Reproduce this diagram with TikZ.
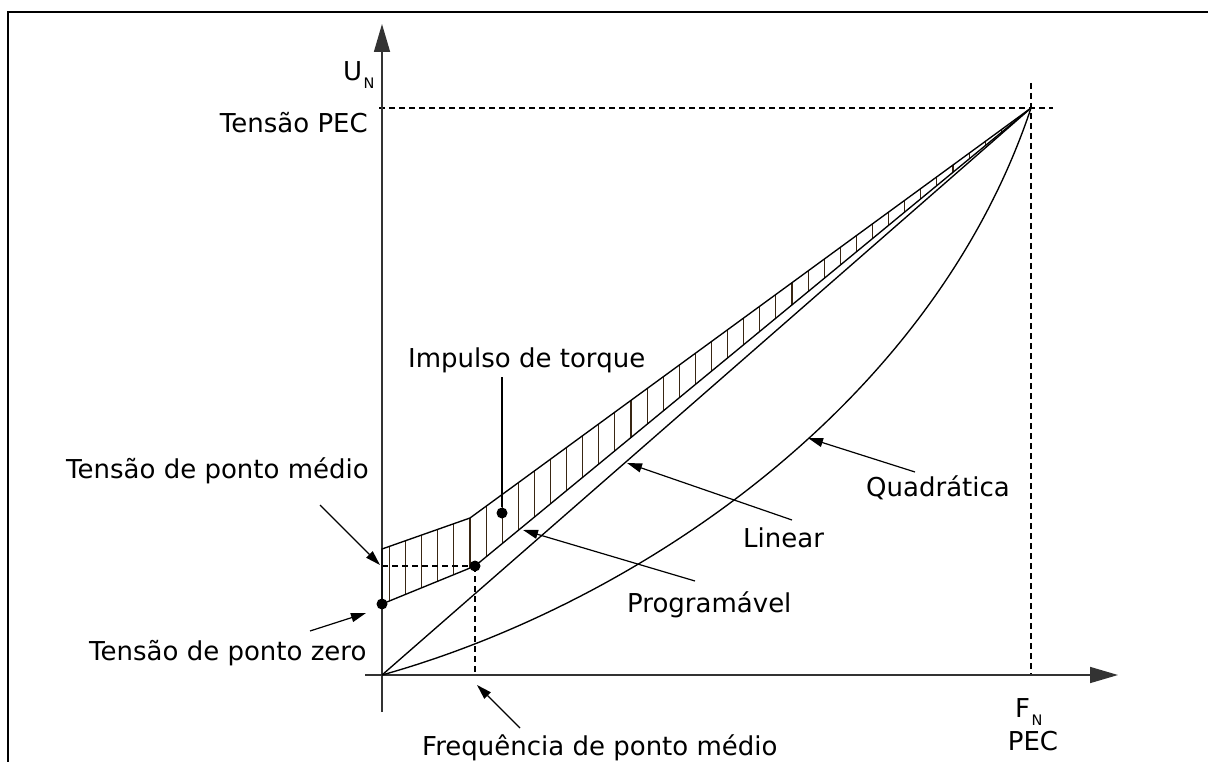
\documentclass[tikz,border=0pt]{standalone}
\usepackage{fontspec}
\setmainfont{DejaVu Sans}
\usetikzlibrary{arrows.meta}
\begin{document}
\begin{tikzpicture}[x=1pt,y=-1pt,
  lbl/.style={font=\fontsize{26}{31}\selectfont, inner sep=0pt},
  sub/.style={font=\fontsize{14.5}{16}\selectfont, inner sep=0pt},
  curve/.style={line width=1.35pt},
  axis/.style={line width=1.6pt, draw=black!80, -{Triangle[length=28pt,width=16pt]}},
  guide/.style={dash pattern=on 6pt off 4pt, line width=1.2pt},
  pointer/.style={line width=1.2pt, -{Triangle[length=15pt,width=9pt]}},
  dot/.style={circle, fill=black, inner sep=0pt, minimum size=11pt},
  hatch/.style={line width=1.1pt, draw=brown!30!black}]

\useasboundingbox (0,0) rectangle (1208,762);
\draw[line width=2pt] (8,762) -- (8,12) -- (1208,12);

% key points
\coordinate (O) at (382,675);
\coordinate (P) at (1031,108);
\coordinate (Z) at (382,604);
\coordinate (M) at (475,566);
\coordinate (TL) at (382,549);
\coordinate (K) at (470,518);
\coordinate (MY) at (382,566);
\coordinate (MX) at (475,675);

% hatching
\begin{scope}
\clip (TL) -- (K) -- (P) -- (M) -- (Z) -- cycle;
\foreach \i in {0,...,41} \draw[hatch] ({389.5+16.1*\i},100) -- ({389.5+16.1*\i},620);
\end{scope}

% guides
\coordinate (GL) at (379,108);
\coordinate (GR) at (1053,108);
\coordinate (GT) at (1031,83);
\coordinate (GB) at (1031,675);
\draw[guide] (GL) -- (GR);
\draw[guide] (GT) -- (GB);
\draw[guide] (MY) -- (M);
\draw[guide] (M) -- (MX);

% axes
\coordinate (YB) at (382,712);
\coordinate (YT) at (382,24);
\coordinate (XL) at (365,675);
\coordinate (XR) at (1118,675);
\draw[axis] (YB) -- (YT);
\draw[axis] (XL) -- (XR);

% curves
\draw[curve] (Z) -- (TL) -- (K) -- (P);
\draw[curve] (Z) -- (M) -- (P);
\draw[curve] (O) -- (P);
\draw[curve] (O) .. controls (632,605) and (931,408) .. (P);

% dots
\node[dot] (dZ) at (Z) {};
\node[dot] (dM) at (M) {};
\node[dot] (dI) at (502,513) {};

% labels
\node[lbl, anchor=base west] (imp) at (408,367) {Impulso de torque};
\node[lbl, anchor=base west] (tmed) at (66,478) {Tensão de ponto médio};
\node[lbl, anchor=base west] (tzero) at (89,660) {Tensão de ponto zero};
\node[lbl, anchor=base west] (freq) at (422,755) {Frequência de ponto médio};
\node[lbl, anchor=base west] (prog) at (627,612) {Programável};
\node[lbl, anchor=base west] (lin) at (743,547) {Linear};
\node[lbl, anchor=base west] (quad) at (866,496) {Quadrática};
\node[lbl, anchor=base east] (tpec) at (368,133) {Tensão PEC};
\node[lbl, anchor=base west] (U) at (343,81) {U};
\node[sub, anchor=base west] (Un) at (U.base east) [yshift=-8pt, xshift=1pt] {N};
\node[lbl, anchor=base west] (F) at (1015,717) {F};
\node[sub, anchor=base west] (Fn) at (F.base east) [yshift=-8pt, xshift=1pt] {N};
\node[lbl, anchor=base] (fpec) at (1033,750) {PEC};

% pointers
\coordinate (impT) at (502,377);
\draw[line width=1.2pt] (impT) -- (dI);
\coordinate (a1) at (320,505); \coordinate (b1) at (380,565);
\draw[pointer] (a1) -- (b1);
\coordinate (a2) at (310,631); \coordinate (b2) at (366,613);
\draw[pointer] (a2) -- (b2);
\coordinate (a3) at (695,581); \coordinate (b3) at (523,530);
\draw[pointer] (a3) -- (b3);
\coordinate (a4) at (792,520); \coordinate (b4) at (627,463);
\draw[pointer] (a4) -- (b4);
\coordinate (a5) at (915,472); \coordinate (b5) at (808,438);
\draw[pointer] (a5) -- (b5);
\coordinate (a6) at (520,728); \coordinate (b6) at (477,685);
\draw[pointer] (a6) -- (b6);
\end{tikzpicture}
\end{document}
